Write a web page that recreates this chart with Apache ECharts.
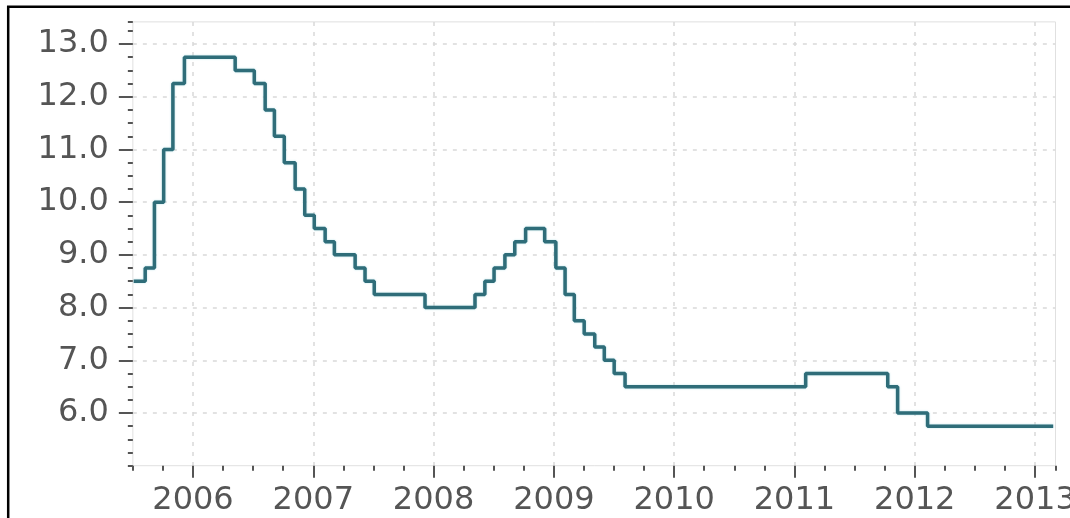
<!DOCTYPE html>
<html>
<head>
<meta charset="utf-8">
<script src="https://cdn.jsdelivr.net/npm/echarts@6/dist/echarts.min.js"></script>
<style>
html, body { margin: 0; padding: 0; background: #ffffff; }
#chart { width: 1070px; height: 518px; }
</style>
</head>
<body>
<div id="chart"></div>
<script>
// Effective dates of each rate change and the new rate (%)
const rateDates = ['2005-07-05', '2005-08-09', '2005-09-06', '2005-10-04', '2005-11-01', '2005-12-06',
  '2006-05-09', '2006-07-06', '2006-08-08', '2006-09-05', '2006-10-05', '2006-11-07', '2006-12-06',
  '2007-01-04', '2007-02-06', '2007-03-06', '2007-05-08', '2007-06-07', '2007-07-05', '2007-12-06',
  '2008-05-06', '2008-06-05', '2008-07-03', '2008-08-05', '2008-09-04', '2008-10-07', '2008-12-04',
  '2009-01-07', '2009-02-04', '2009-03-04', '2009-04-03', '2009-05-05', '2009-06-03', '2009-07-03', '2009-08-05',
  '2011-02-04', '2011-10-11', '2011-11-10', '2012-02-09', '2013-02-25'];
const rateValues = [8.5, 8.75, 10.0, 11.0, 12.25, 12.75,
  12.5, 12.25, 11.75, 11.25, 10.75, 10.25, 9.75,
  9.5, 9.25, 9.0, 8.75, 8.5, 8.25, 8.0,
  8.25, 8.5, 8.75, 9.0, 9.25, 9.5, 9.25,
  8.75, 8.25, 7.75, 7.5, 7.25, 7.0, 6.75, 6.5,
  6.75, 6.5, 6.0, 5.75, 5.75];
const yearTicks = [2006, 2007, 2008, 2009, 2010, 2011, 2012, 2013];
const rateTicks = [6, 7, 8, 9, 10, 11, 12, 13];

function toYear(s) {
  const p = s.split('-').map(Number);
  const start = Date.UTC(p[0], 0, 1), end = Date.UTC(p[0] + 1, 0, 1);
  return p[0] + (Date.UTC(p[0], p[1] - 1, p[2]) - start) / (end - start);
}
const seriesData = rateDates.map((d, i) => [toYear(d), rateValues[i]]);

const X_MIN = 2005.5, X_MAX = 2013.17;
const Y_MIN = 5.0, Y_MAX = 13.42;
const FONT = 'DejaVu Sans';
const labelColor = '#555555';
const tickColor = '#555555';
const gridLine = { show: true, lineStyle: { color: '#d9d9d9', width: 1.5, type: [4, 6] } };

const chart = echarts.init(document.getElementById('chart'), null, { renderer: 'canvas' });
chart.setOption({
  animation: false,
  backgroundColor: '#ffffff',
  graphic: [{
    type: 'rect', z: 100, silent: true,
    shape: { x: 8.2, y: 6.8, width: 1200, height: 700 },
    style: { fill: 'none', stroke: '#000000', lineWidth: 2.5 }
  }],
  grid: {
    left: 132.85, right: 14.5, top: 21.9, bottom: 52.3,
    containLabel: false, outerBoundsMode: 'none',
    show: true, borderColor: '#e0e0e0', borderWidth: 1, backgroundColor: 'transparent'
  },
  xAxis: [{
    type: 'value', min: X_MIN, max: X_MAX, interval: 0.25,
    axisLine: { show: false },
    axisTick: { show: true, length: 5, lineStyle: { color: tickColor, width: 2 } },
    axisLabel: {
      customValues: yearTicks, formatter: v => String(Math.round(v)),
      fontFamily: FONT, fontSize: 32, color: labelColor, margin: 19
    },
    splitLine: { show: false }
  }, {
    type: 'value', min: X_MIN, max: X_MAX, position: 'bottom',
    axisLine: { show: false },
    axisTick: { show: true, customValues: yearTicks, length: 12, lineStyle: { color: tickColor, width: 2 } },
    axisLabel: { show: false },
    splitLine: gridLine
  }],
  yAxis: [{
    type: 'value', min: Y_MIN, max: Y_MAX, interval: 0.25,
    axisLine: { show: false },
    axisTick: { show: true, length: 5, lineStyle: { color: tickColor, width: 2 } },
    axisLabel: {
      customValues: rateTicks, formatter: v => v.toFixed(1),
      fontFamily: FONT, fontSize: 32, color: labelColor, margin: 24
    },
    splitLine: { show: false }
  }, {
    type: 'value', min: Y_MIN, max: Y_MAX, position: 'left',
    axisLine: { show: false },
    axisTick: { show: true, customValues: rateTicks, length: 14, lineStyle: { color: tickColor, width: 2 } },
    axisLabel: { show: false },
    splitLine: gridLine
  }],
  series: [{
    type: 'line', xAxisIndex: 0, yAxisIndex: 0,
    step: 'end', data: seriesData, showSymbol: false, symbol: 'none',
    lineStyle: { color: '#2f6d79', width: 3.5, shadowColor: 'rgba(150,210,220,0.7)', shadowBlur: 2 },
    z: 5
  }]
});
</script>
</body>
</html>
